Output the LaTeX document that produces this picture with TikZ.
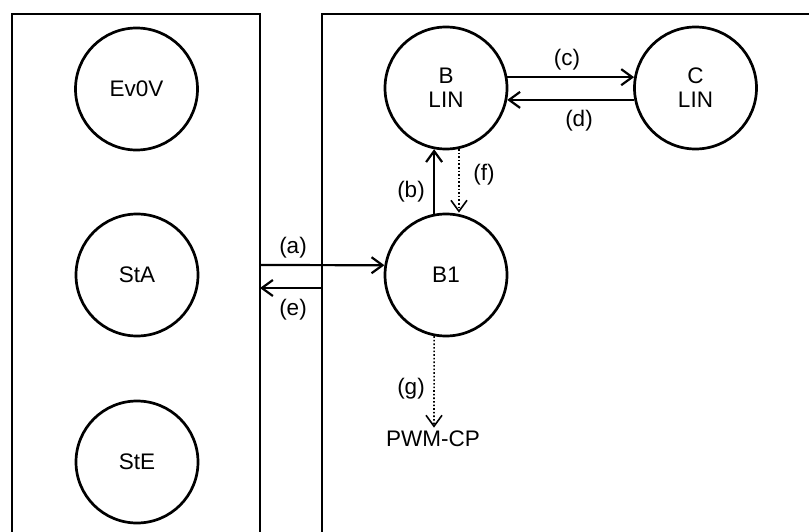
\documentclass[tikz,border=0pt]{standalone}
\usepackage{fontspec}
\setmainfont{Liberation Sans}
\usetikzlibrary{arrows.meta}
\begin{document}
\begin{tikzpicture}[x=1pt,y=-1pt,
  state/.style={draw,circle,line width=2.7pt,minimum size=122pt,inner sep=0pt,align=center,font=\fontsize{22.5}{24}\selectfont},
  frame/.style={line width=2.8pt},
  conn/.style={line width=2.2pt,-{Straight Barb[length=11pt,width=16pt,line width=2.2pt]}},
  dconn/.style={line width=1.6pt,dotted,-{Straight Barb[length=11pt,width=16pt,line width=1.6pt,sep]}},
  lbl/.style={font=\fontsize{22.5}{24}\selectfont,inner sep=0pt}]
\useasboundingbox (0,0) rectangle (809,532);
% frames
\draw[frame] (12,540) -- (12,14) -- (260,14) -- (260,540);
\draw[frame] (322,540) -- (322,14) -- (820,14);
% states
\node[state] (ev) at (136.5,89) {Ev0V};
\node[state] (sta) at (137,275) {StA};
\node[state] (ste) at (137,462) {StE};
\node[state] (blin) at (446,88) {B\\LIN};
\node[state] (clin) at (695.5,88) {C\\LIN};
\node[state] (b1) at (446,275) {B1};
% coordinates
\coordinate (aStart) at (260,265);
\coordinate (eStart) at (322,288);
\coordinate (eEnd) at (260,288);
\coordinate (gEnd) at (434,429);
% connectors
\draw[conn] (aStart) -- (b1.171);
\draw[conn] (eStart) -- (eEnd);
\draw[conn] (b1.101) -- (blin.259);
\draw[dconn] (blin.282) -- (b1.78);
\draw[conn] (blin.10) -- (clin.170);
\draw[conn] (clin.191) -- (blin.349);
\draw[dconn] (b1.259) -- (gEnd);
\node[lbl,anchor=north] (pwm) at (433,431) {PWM-CP};
% labels
\node[lbl] (la) at (293,248) {(a)};
\node[lbl] (le) at (293,310) {(e)};
\node[lbl] (lb) at (411,192) {(b)};
\node[lbl] (lf) at (484,175) {(f)};
\node[lbl] (lc) at (567,60) {(c)};
\node[lbl] (ld) at (579,121) {(d)};
\node[lbl] (lg) at (411,389) {(g)};
\end{tikzpicture}
\end{document}
